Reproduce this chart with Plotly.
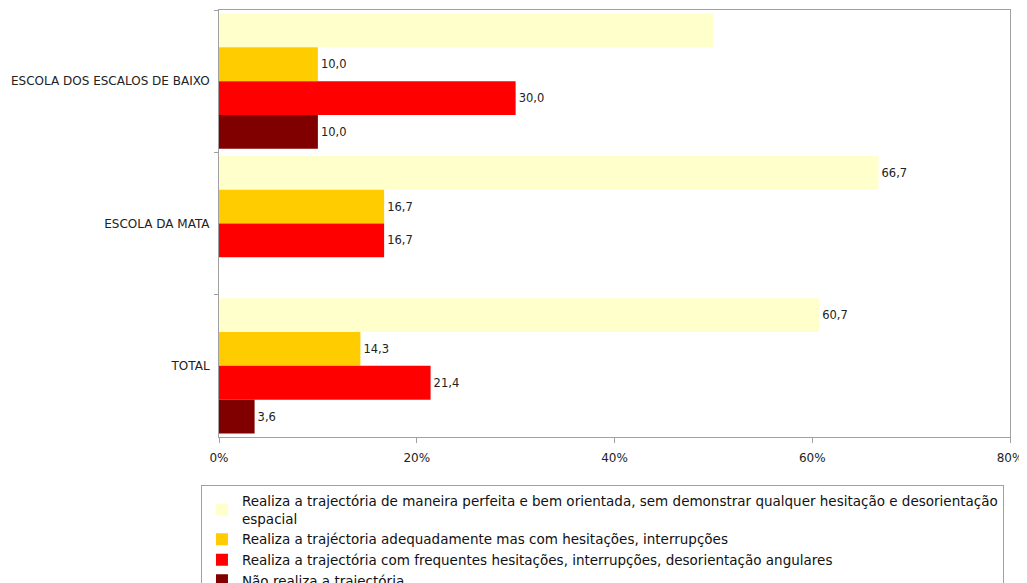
import plotly.graph_objects as go

categories = ["ESCOLA DOS ESCALOS DE BAIXO", "ESCOLA DA MATA", "TOTAL"]
series_names = [
    "Realiza a trajectória de maneira perfeita e bem orientada, sem demonstrar qualquer hesitação e desorientação<br>espacial",
    "Realiza a trajéctoria adequadamente mas com hesitações, interrupções",
    "Realiza a trajectória com frequentes hesitações, interrupções, desorientação angulares",
    "Não realiza a trajectória",
]
perfeita = [50.0, 66.7, 60.7]
hesitacoes = [10.0, 16.7, 14.3]
frequentes = [30.0, 16.7, 21.4]
nao_realiza = [10.0, None, 3.6]
show_label = [
    [False, True, True],
    [True, True, True],
    [True, True, True],
    [True, True, True],
]
colors = ["#FFFFCC", "#FFCC00", "#FF0000", "#800000"]
x_ticks = [0, 20, 40, 60, 80]
x_tick_labels = ["0%", "20%", "40%", "60%", "80%"]

fig = go.Figure()
for name, vals, col, mask in zip(series_names, [perfeita, hesitacoes, frequentes, nao_realiza], colors, show_label):
    texts = [("" if (v is None or not m) else f"{v:.1f}".replace(".", ",")) for v, m in zip(vals, mask)]
    fig.add_trace(go.Bar(
        y=categories, x=vals, name=name, orientation="h",
        marker=dict(color=col, line=dict(width=0)),
        text=texts, textposition="outside", cliponaxis=False,
        textfont=dict(family="DejaVu Sans", size=11.5, color="#222222"),
        legendgroup=name,
    ))

fig.update_layout(
    width=1019, height=575,
    margin=dict(l=211, r=17, t=2, b=146, autoexpand=False),
    plot_bgcolor="white", paper_bgcolor="white",
    barmode="group", bargap=0.05, bargroupgap=0,
    font=dict(family="DejaVu Sans", size=11, color="#222222"),
    showlegend=True,
    legend=dict(
        x=-0.0228, xanchor="left", y=-0.112, yanchor="top",
        bordercolor="#A0A0A0", borderwidth=1, bgcolor="white",
        font=dict(family="DejaVu Sans", size=13.5, color="#111111"),
        itemwidth=30, tracegroupgap=12, traceorder="normal",
    ),
    xaxis=dict(
        range=[0, 80], tickvals=x_ticks, ticktext=x_tick_labels,
        showgrid=False, zeroline=False,
        showline=True, linecolor="#A0A0A0", linewidth=1, mirror=True,
        ticks="outside", ticklen=5, tickcolor="#A0A0A0",
        ticklabelstandoff=5,
        tickfont=dict(family="DejaVu Sans", size=12),
    ),
    yaxis=dict(
        autorange="reversed", showgrid=False, zeroline=False,
        showline=True, linecolor="#A0A0A0", linewidth=1, mirror=True,
        ticks="outside", ticklen=4, tickcolor="#A0A0A0", tickson="boundaries",
        ticklabelstandoff=6,
        tickfont=dict(family="DejaVu Sans", size=12),
    ),
)

fig.write_html("out.html")
